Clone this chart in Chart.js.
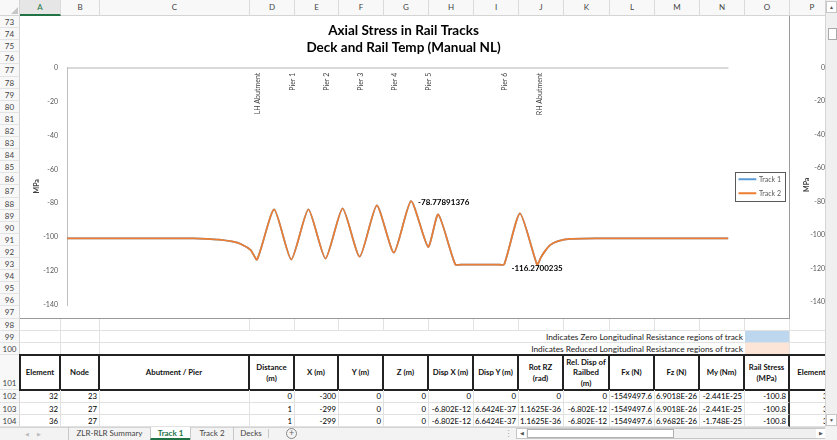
<!DOCTYPE html>
<html>
<head>
<meta charset="utf-8">
<script src="https://cdn.jsdelivr.net/npm/chart.js@4.4.0/dist/chart.umd.min.js"></script>
<style>
  html, body { margin: 0; padding: 0; background: #fff; }
  body { width: 837px; height: 440px; overflow: hidden; font-family: Lato, 'Open Sans', sans-serif; }
  #sheet { position: relative; width: 837px; height: 440px; overflow: hidden; }
  .abs { position: absolute; box-sizing: border-box; white-space: nowrap; overflow: hidden; }
  canvas { display: block; }
</style>
</head>
<body>
<div id="sheet"></div>
<script>
// chart data (distance along track in m, rail stress in MPa)
const distance = [0, 100, 200, 220, 240, 260, 275, 290, 300, 327, 354, 381, 408, 435, 462, 489, 516, 543,
  570, 586, 613, 625, 650, 680, 690, 715, 742, 748, 755, 763, 775, 794, 837, 900, 1044];
const track1Stress = [-100.8, -100.8, -100.8, -101.0, -101.5, -102.6, -104.2, -107.7, -113.3, -83.7, -113.3, -83.7,
  -112.7, -83.1, -111.6, -81.3, -109.2, -78.77891376, -105.8, -86.6, -116.2, -116.2, -116.2, -116.2, -116.2, -86.0,
  -116.2700235, -112.0, -108.0, -104.6, -102.4, -101.1, -100.8, -100.8, -100.8];
const track2Stress = [-100.8, -100.8, -100.8, -101.0, -101.5, -102.6, -104.2, -107.7, -113.3, -83.7, -113.3, -83.7,
  -112.7, -83.1, -111.6, -81.3, -109.2, -78.77891376, -105.8, -86.6, -116.2, -116.2, -116.2, -116.2, -116.2, -86.0,
  -116.2700235, -112.0, -108.0, -104.6, -102.4, -101.1, -100.8, -100.8, -100.8];
const stressTicks = [0, -20, -40, -60, -80, -100, -120, -140];
const supportNames = ['LH Abutment', 'Pier 1', 'Pier 2', 'Pier 3', 'Pier 4', 'Pier 5', 'Pier 6', 'RH Abutment'];
const supportDistance = [300, 354, 408, 462, 516, 570, 690, 744];
const labelledPoints = [17, 26]; // max and min of Track 2

// sheet contents
const colLetters = ['A', 'B', 'C', 'D', 'E', 'F', 'G', 'H', 'I', 'J', 'K', 'L', 'M', 'N', 'O', 'P'];
const tableHeaders = ['Element', 'Node', 'Abutment / Pier', 'Distance<br>(m)', 'X (m)', 'Y (m)', 'Z (m)', 'Disp X (m)',
  'Disp Y (m)', 'Rot RZ<br>(rad)', 'Rel. Disp of<br>Railbed<br>(m)', 'Fx (N)', 'Fz (N)', 'My (Nm)', 'Rail Stress<br>(MPa)', 'Element'];
const tableRows = [
  ['32', '23', '', '0', '-300', '0', '0', '0', '0', '0', '0', '-1549497.6', '6.9018E-26', '-2.441E-25', '-100.8', '32'],
  ['32', '27', '', '1', '-299', '0', '0', '-6.802E-12', '6.6424E-37', '1.1625E-36', '-6.802E-12', '-1549497.6', '6.9018E-26', '-2.441E-25', '-100.8', '32'],
  ['36', '27', '', '1', '-299', '0', '0', '-6.802E-12', '6.6424E-37', '1.1625E-36', '-6.802E-12', '-1549497.6', '6.9682E-26', '-1.748E-25', '-100.8', '36']
];
const sheetTabs = ['ZLR-RLR Summary', 'Track 1', 'Track 2', 'Decks'];

const sheet = document.getElementById('sheet');
function box(x, y, w, h, css, html) {
  const d = document.createElement('div');
  d.className = 'abs';
  d.style.cssText = `left:${x}px;top:${y}px;width:${w}px;height:${h}px;` + (css || '');
  if (html != null) d.innerHTML = html;
  sheet.appendChild(d);
  return d;
}

const colEdges = [20, 61, 100, 250, 295, 339, 384, 429, 474, 519, 564, 610, 655, 700, 745, 790, 835];
function rowTop(n) { return n <= 101 ? Math.round(16 + (n - 73) * 12.1) : Math.round(390 + (n - 102) * 12.5); }
function rowBottom(n) { return n === 104 ? 427 : rowTop(n + 1); }

// column headers
box(0, 0, 837, 16, 'background:#f8f8f8;border-bottom:1px solid #d4d4d4');
box(0, 0, 20, 16, 'border-right:1px solid #d4d4d4');
box(11, 7, 0, 0, 'border-left:7px solid transparent;border-bottom:7px solid #c6c6c6;overflow:visible');
colLetters.forEach((c, i) => {
  const x = colEdges[i], w = colEdges[i + 1] - x;
  const sel = i === 0;
  box(x, 0, w, 16, 'border-right:1px solid #dadada;text-align:center;line-height:15px;font-size:8px;color:' +
    (sel ? '#217346;border-bottom:2px solid #217346;background:#e6e6e6' : '#444'), c);
});

// row headers
for (let n = 73; n <= 104; n++) {
  const t = rowTop(n), h = rowBottom(n) - t;
  box(0, t, 20, h, 'background:#f8f8f8;border-right:1px solid #d4d4d4;border-bottom:1px solid #e3e3e3;font-size:8px;color:#444;text-align:center;' +
    (n === 101 ? 'display:flex;align-items:flex-end;justify-content:center;padding-bottom:1px' : 'line-height:' + h + 'px'), String(n));
}

// cells rows 98..100
for (let n = 98; n <= 100; n++) {
  const t = rowTop(n), h = rowBottom(n) - t;
  colLetters.forEach((c, i) => {
    const x = colEdges[i], w = colEdges[i + 1] - x;
    let bg = '';
    if (c === 'O' && n === 99) bg = 'background:#bdd7ee;';
    if (c === 'O' && n === 100) bg = 'background:#fce4d6;';
    box(x, t, w, h, bg + 'border-right:1px solid #e1e1e1;border-bottom:1px solid #e1e1e1');
  });
}
const noteCss = 'background:#fff;border-bottom:1px solid #e1e1e1;text-align:right;padding-right:2px;font-size:8.3px;color:#222;line-height:12px';
box(100, rowTop(99), 645, rowBottom(99) - rowTop(99), noteCss, 'Indicates Zero Longitudinal Resistance regions of track');
box(100, rowTop(100), 645, rowBottom(100) - rowTop(100), noteCss, 'Indicates Reduced Longitudinal Resistance regions of track');

// header row 101
tableHeaders.forEach((txt, i) => {
  const x = colEdges[i], w = colEdges[i + 1] - x, t = rowTop(101) - 1, h = rowBottom(101) - t + 1;
  box(x - (i === 0 ? 1 : 0), t, w + (i === 0 ? 1 : 0), h, 'border-top:2px solid #222;border-bottom:2px solid #222;border-right:2px solid #222;' +
    (i === 0 ? 'border-left:2px solid #222;' : '') +
    'display:flex;align-items:center;justify-content:center;text-align:center;font-weight:bold;font-size:7.8px;line-height:1.3;color:#111;white-space:normal', txt);
});

// data rows 102..104
tableRows.forEach((row, r) => {
  const n = 102 + r, t = rowTop(n), h = rowBottom(n) - t;
  row.forEach((txt, i) => {
    const x = colEdges[i], w = colEdges[i + 1] - x;
    const edge = i === 14 ? 'border-right:2px solid #333;' : 'border-right:1px solid #e1e1e1;';
    box(x, t, w, h, edge + 'border-bottom:1px solid #e1e1e1;text-align:right;padding-right:2px;font-size:7.8px;color:#000;line-height:' + h + 'px', txt);
  });
});

// sheet tab bar
box(0, 427, 837, 13, 'background:#f3f3f3;border-top:1px solid #d4d4d4');
box(22, 428, 10, 12, 'font-size:5px;color:#bbb;line-height:12px;text-align:center', '&#9664;');
box(34, 428, 10, 12, 'font-size:5px;color:#bbb;line-height:12px;text-align:center', '&#9654;');
const tabEdges = [68, 150, 190, 233, 268];
sheetTabs.forEach((name, i) => {
  const x = tabEdges[i], w = tabEdges[i + 1] - x;
  const active = name === 'Track 1';
  box(x, 427, w, 13, 'border-left:1px solid #c8c8c8;text-align:center;font-size:8px;line-height:12px;' +
    (active ? 'background:#fff;color:#217346;font-weight:bold;border-bottom:2px solid #217346' : 'color:#444'), name);
});
box(268, 429, 1, 9, 'background:#c8c8c8');
box(286, 428, 11, 11, 'border:1px solid #888;border-radius:50%;font-size:9px;line-height:8px;text-align:center;color:#666', '+');
box(504, 428, 6, 12, 'font-size:9px;line-height:11px;color:#aaa;text-align:center', '&#8942;');
box(516, 428, 310, 11, 'background:#f0f0f0;border:1px solid #c6c6c6');
box(517, 429, 9, 9, 'background:#fff;font-size:5px;line-height:9px;text-align:center;color:#555', '&#9664;');
box(527, 429, 147, 9, 'background:#fff;border:1px solid #b0b0b0');
box(816, 429, 9, 9, 'background:#fff;font-size:5px;line-height:9px;text-align:center;color:#555', '&#9654;');

// charts
function chartHolder(x, w) {
  const d = box(x, 16, w, 303, 'background:#fff;overflow:hidden');
  const c = document.createElement('canvas');
  c.width = 769; c.height = 302;
  d.appendChild(c);
  return { d, c };
}
const main = chartHolder(20, 770);
main.d.style.borderRight = '1px solid #9a9a9a';
main.d.style.borderBottom = '1px solid #9a9a9a';
const side = chartHolder(790, 35);

// vertical scrollbar
box(825, 0, 12, 427, 'background:#f0f0f0;border-left:1px solid #d4d4d4');
box(826, 1, 11, 12, 'background:#fff;border:1px solid #c6c6c6;font-size:5px;line-height:10px;text-align:center;color:#555', '&#9650;');
box(828, 28, 9, 12, 'background:#fff;border:1px solid #aaa');
box(826, 414, 11, 12, 'background:#fff;border:1px solid #c6c6c6;font-size:5px;line-height:10px;text-align:center;color:#555', '&#9660;');
box(825, 427, 12, 13, 'background:#f3f3f3');

const supportLabels = {
  id: 'supportLabels',
  afterDatasetsDraw(chart) {
    const { ctx, chartArea, scales } = chart;
    ctx.save();
    ctx.font = '7px Lato';
    ctx.fillStyle = '#404040';
    ctx.textAlign = 'right';
    ctx.textBaseline = 'middle';
    supportNames.forEach((name, i) => {
      const x = scales.x.getPixelForValue(supportDistance[i]);
      ctx.save();
      ctx.translate(x + 1, chartArea.top + 5);
      ctx.rotate(-Math.PI / 2);
      ctx.fillText(name, 0, 0);
      ctx.restore();
    });
    ctx.restore();
  }
};

const valueLabels = {
  id: 'valueLabels',
  afterDatasetsDraw(chart) {
    const { ctx } = chart;
    const meta = chart.getDatasetMeta(1);
    ctx.save();
    ctx.font = 'bold 8px Lato';
    ctx.fillStyle = '#000';
    labelledPoints.forEach((idx, k) => {
      const pt = meta.data[idx];
      const text = String(track2Stress[idx]);
      if (k === 0) {
        ctx.textAlign = 'left';
        ctx.textBaseline = 'middle';
        ctx.fillText(text, pt.x + 7, pt.y + 1);
      } else {
        ctx.textAlign = 'center';
        ctx.textBaseline = 'top';
        ctx.fillText(text, pt.x, pt.y);
      }
    });
    ctx.restore();
  }
};

// moves the legend next to the plot middle and frames it
const legendFrame = {
  id: 'legendFrame',
  beforeDraw(chart) {
    const lg = chart.legend;
    if (!lg || lg._moved || !lg.legendHitBoxes || !lg.legendHitBoxes.length) return;
    const hb = lg.legendHitBoxes;
    const top = Math.min(...hb.map(h => h.top));
    const bottom = Math.max(...hb.map(h => h.top + h.height));
    const dy = (chart.chartArea.top + chart.chartArea.bottom) / 2 - (top + bottom) / 2;
    const dx = 4;
    lg.top += dy; lg.bottom += dy; lg.left += dx; lg.right += dx;
    hb.forEach(h => { h.top += dy; h.left += dx; });
    lg._moved = true;
  },
  afterDraw(chart) {
    const lg = chart.legend;
    if (!lg || !lg.legendHitBoxes || !lg.legendHitBoxes.length) return;
    const hb = lg.legendHitBoxes;
    const left = Math.min(...hb.map(h => h.left)) - 4;
    const right = Math.max(...hb.map(h => h.left + h.width)) + 4;
    const top = Math.min(...hb.map(h => h.top)) - 4;
    const bottom = Math.max(...hb.map(h => h.top + h.height)) + 4;
    const ctx = chart.ctx;
    ctx.save();
    ctx.strokeStyle = '#595959';
    ctx.lineWidth = 1;
    ctx.strokeRect(Math.round(left) + 0.5, Math.round(top) + 0.5, Math.round(right - left), Math.round(bottom - top));
    ctx.restore();
  }
};

function makeChart(canvas, tickPad) {
  return new Chart(canvas, {
    type: 'line',
    data: {
      datasets: [
        {
          label: 'Track 1',
          data: distance.map((d, i) => ({ x: d, y: track1Stress[i] })),
          borderColor: '#5b9bd5',
          backgroundColor: '#5b9bd5',
          borderWidth: 1.75,
          pointRadius: 0,
          tension: 0.2,
          order: 1
        },
        {
          label: 'Track 2',
          data: distance.map((d, i) => ({ x: d, y: track2Stress[i] })),
          borderColor: '#ed7d31',
          backgroundColor: '#ed7d31',
          borderWidth: 1.75,
          pointRadius: 0,
          tension: 0.2,
          order: 0
        }
      ]
    },
    options: {
      responsive: false,
      animation: false,
      devicePixelRatio: 1,
      layout: { padding: { left: 0, right: 2, top: 0, bottom: 9 } },
      plugins: {
        title: {
          display: true,
          text: ['Axial Stress in Rail Tracks', 'Deck and Rail Temp (Manual NL)'],
          color: '#000',
          font: { family: 'Lato', size: 13.5, weight: 'bold', lineHeight: 1.25 },
          padding: { top: 6, bottom: 12 }
        },
        legend: {
          position: 'right',
          labels: {
            sort: (a, b) => a.datasetIndex - b.datasetIndex,
            boxWidth: 16,
            boxHeight: 0.1,
            padding: 7,
            color: '#595959',
            font: { family: 'Lato', size: 7 }
          }
        },
        tooltip: { enabled: false }
      },
      scales: {
        x: { type: 'linear', min: distance[0], max: distance[distance.length - 1], display: false },
        y: {
          min: stressTicks[stressTicks.length - 1],
          max: stressTicks[0],
          afterFit(scale) { scale.width = 47; },
          afterBuildTicks(scale) { scale.ticks = stressTicks.map(v => ({ value: v })); },
          ticks: { color: '#595959', padding: tickPad, font: { family: 'Lato', size: 7 } },
          title: { display: true, text: 'MPa', color: '#404040', font: { family: 'Lato', size: 7, weight: 'bold' }, padding: { top: 12.8, bottom: 0 } },
          grid: {
            drawTicks: false,
            lineWidth: 2,
            color: ctx => (ctx.tick && ctx.tick.value === 0 ? '#d9d9d9' : 'rgba(0,0,0,0)')
          },
          border: { display: true, color: '#bfbfbf', width: 1 }
        }
      }
    },
    plugins: [supportLabels, valueLabels, legendFrame]
  });
}

makeChart(main.c, 9);
makeChart(side.c, 12);
</script>
</body>
</html>
